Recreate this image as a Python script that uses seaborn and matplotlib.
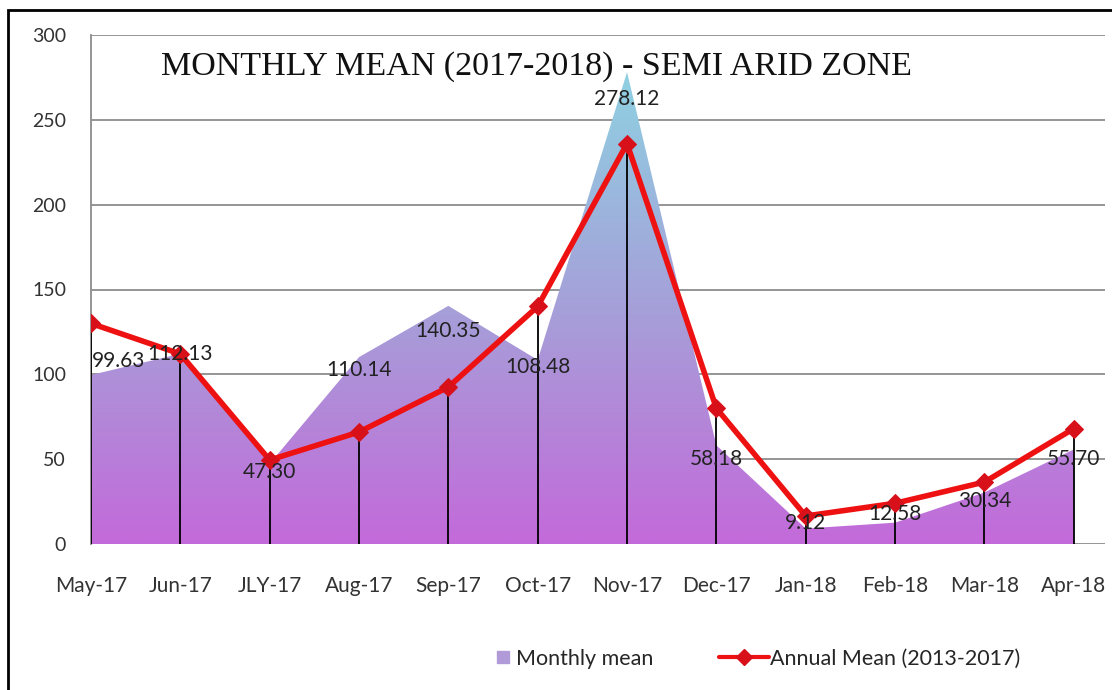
import numpy as np
import matplotlib
matplotlib.use('Agg')
import matplotlib.pyplot as plt
import seaborn as sns
from matplotlib.colors import LinearSegmentedColormap
from matplotlib.lines import Line2D
from matplotlib.patches import Rectangle

# -- Data ----------------------------------------------------
months = ['May-17', 'Jun-17', 'JLY-17', 'Aug-17', 'Sep-17', 'Oct-17',
          'Nov-17', 'Dec-17', 'Jan-18', 'Feb-18', 'Mar-18', 'Apr-18']
monthly_mean = [99.63, 112.13, 47.30, 110.14, 140.35, 108.48,
                278.12, 58.18, 9.12, 12.58, 30.34, 55.70]
annual_mean = [130, 112, 49.5, 66, 92.5, 140, 236, 80, 16.5, 24, 36.5, 68]
y_ticks = [0, 50, 100, 150, 200, 250, 300]

# label nudges (points) so the value labels sit like the original
label_dx = [20, 0, 0, 0, 0, 0, 0, 0, 0, 0, 0, 0]
label_dy = [10, 0, -6, -9, -18, -5, -19, -10, 4, 6, -6, -7]

TITLE = 'MONTHLY MEAN (2017-2018) - SEMI ARID ZONE'

sns.set_style('white')
plt.rcParams['font.family'] = ['Lato', 'DejaVu Sans']

fig = plt.figure(figsize=(11.12, 6.9), dpi=100)
ax = fig.add_axes([91 / 1112, 146 / 690, 1014 / 1112, 509 / 690])

x = np.arange(len(months))

# -- Gradient filled area (Monthly mean) ---------------------
cmap = LinearSegmentedColormap.from_list(
    'area', [(0.0, '#c36ada'), (0.45, '#a89bd8'), (1.0, '#8ed2e2')])
poly = ax.fill_between(x, 0, monthly_mean, color='none', lw=0)
grad = np.linspace(0, 1, 256).reshape(-1, 1)
im = ax.imshow(grad, cmap=cmap, aspect='auto', origin='lower',
               extent=[x[0], x[-1], 0, 280], zorder=1)
im.set_clip_path(poly.get_paths()[0], transform=ax.transData)

# -- Drop lines + annual mean line ---------------------------
ax.vlines(x, 0, annual_mean, color='black', lw=1.3, zorder=3)
sns.lineplot(x=x, y=annual_mean, ax=ax, color='#ee1111', lw=4,
             marker='D', markersize=9, markerfacecolor='#d8101a',
             markeredgecolor='#d8101a', zorder=4)

# -- Value labels --------------------------------------------
for xi, v, dx, dy in zip(x, monthly_mean, label_dx, label_dy):
    ax.annotate(f'{v:.2f}', (xi, v), xytext=(dx, dy), textcoords='offset points',
                ha='center', va='center', fontsize=15, color='#222222', zorder=5)

# -- Axes styling --------------------------------------------
ax.set_xlim(0, 11.35)
ax.set_ylim(0, 300)
ax.set_yticks(y_ticks)
ax.set_xticks(x)
ax.set_xticklabels(months)
ax.grid(axis='y', color='#8c8c8c', lw=1.3, zorder=0)
ax.set_axisbelow(True)
for s in ['top', 'right', 'bottom']:
    ax.spines[s].set_visible(False)
ax.spines['left'].set_color('#8c8c8c')
ax.spines['left'].set_linewidth(1.3)
ax.tick_params(axis='y', length=18, width=1.3, color='#8c8c8c', pad=0,
               labelsize=14, labelcolor='#333333')
ax.tick_params(axis='x', length=0, pad=23, labelsize=15, labelcolor='#333333')

ax.text(0.439, 0.937, TITLE, transform=ax.transAxes, ha='center', va='center',
        fontsize=24.5, family='Liberation Serif', color='#111111')

# -- Legend (two entries with different handle widths) -------
sq = Line2D([], [], ls='', marker='s', markersize=8, color='#b09ad8')
ln = Line2D([], [], color='#ee1111', lw=3, marker='D', markersize=8,
            markerfacecolor='#d8101a', markeredgecolor='#d8101a')
fig.legend([sq], ['Monthly mean'], loc='center left',
           bbox_to_anchor=(475 / 1112, 31 / 690), frameon=False,
           fontsize=15.5, handlelength=0.8, handletextpad=0.2)
fig.legend([ln], ['Annual Mean (2013-2017)'], loc='center left',
           bbox_to_anchor=(700 / 1112, 31 / 690), frameon=False,
           fontsize=15.5, handlelength=2.3, handletextpad=0.05)

# -- Outer border --------------------------------------------
fig.patches.append(Rectangle((8 / 1112, -0.2), 1.2, 0.2 + 680 / 690,
                             transform=fig.transFigure, fill=False,
                             edgecolor='black', lw=2))

fig.savefig('out.png', dpi=100)
